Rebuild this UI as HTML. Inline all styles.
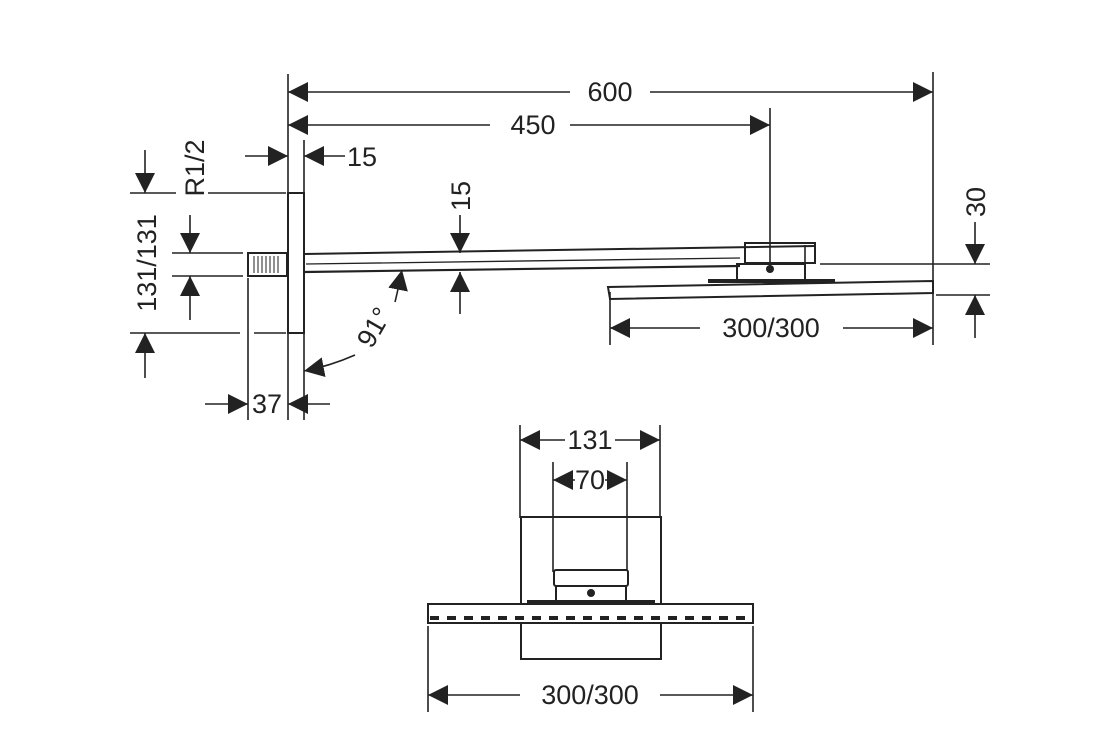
<!DOCTYPE html>
<html><head><meta charset="utf-8"><style>html,body{margin:0;padding:0;background:#fff}svg{display:block}text{font-family:"Liberation Sans",sans-serif;font-size:27px;fill:#222}</style></head><body>
<svg width="1120" height="750" viewBox="0 0 1120 750" xmlns="http://www.w3.org/2000/svg">
<defs>
<marker id="a" viewBox="0 0 20 20" refX="20" refY="10" markerWidth="20" markerHeight="20" markerUnits="userSpaceOnUse" orient="auto"><path d="M0,0 L20,10 L0,20 z" fill="#222"/></marker>
</defs>
<g stroke="#222" stroke-width="1.6" fill="none">
<line x1="288" y1="74" x2="288" y2="420"/><line x1="304" y1="140" x2="304" y2="420"/>
<line x1="933" y1="72" x2="933" y2="345"/><line x1="770" y1="108" x2="770" y2="268"/>
<line x1="248" y1="278" x2="248" y2="420"/>
<line x1="130" y1="193" x2="176" y2="193"/><line x1="208" y1="193" x2="286" y2="193"/>
<line x1="130" y1="333" x2="240" y2="333"/><line x1="254" y1="333" x2="286" y2="333"/>
<line x1="172" y1="253" x2="243" y2="253"/><line x1="172" y1="276" x2="243" y2="276"/>
<line x1="820" y1="264" x2="990" y2="264"/><line x1="936" y1="295" x2="990" y2="295"/>
<line x1="610" y1="292" x2="610" y2="345"/>
<line x1="570" y1="92" x2="288" y2="92" marker-end="url(#a)"/><line x1="650" y1="92" x2="933" y2="92" marker-end="url(#a)"/>
<line x1="490" y1="125" x2="288" y2="125" marker-end="url(#a)"/><line x1="570" y1="125" x2="770" y2="125" marker-end="url(#a)"/>
<line x1="245" y1="156" x2="288" y2="156" marker-end="url(#a)"/><line x1="345" y1="156" x2="304" y2="156" marker-end="url(#a)"/>
<line x1="145" y1="150" x2="145" y2="193" marker-end="url(#a)"/><line x1="145" y1="378" x2="145" y2="333" marker-end="url(#a)"/>
<line x1="190" y1="215" x2="190" y2="253" marker-end="url(#a)"/><line x1="190" y1="320" x2="190" y2="276" marker-end="url(#a)"/>
<line x1="460" y1="215" x2="460" y2="253" marker-end="url(#a)"/><line x1="460" y1="314" x2="460" y2="272" marker-end="url(#a)"/>
<path d="M395,302 Q398,290 402,270" marker-end="url(#a)"/>
<path d="M355,355 Q330,366 304,371" marker-end="url(#a)"/>
<line x1="205" y1="404" x2="248" y2="404" marker-end="url(#a)"/><line x1="330" y1="404" x2="288" y2="404" marker-end="url(#a)"/>
<line x1="975" y1="222" x2="975" y2="264" marker-end="url(#a)"/><line x1="975" y1="338" x2="975" y2="295" marker-end="url(#a)"/>
<line x1="700" y1="328" x2="610" y2="328" marker-end="url(#a)"/><line x1="843" y1="328" x2="933" y2="328" marker-end="url(#a)"/>
<rect x="288" y="193" width="16" height="140" stroke-width="2"/>
<rect x="248" y="253" width="39" height="23" stroke-width="2"/>
<g stroke-width="1"><line x1="254" y1="256" x2="254" y2="273"/><line x1="258" y1="256" x2="258" y2="273"/><line x1="262" y1="256" x2="262" y2="273"/><line x1="266" y1="256" x2="266" y2="273"/><line x1="270" y1="256" x2="270" y2="273"/><line x1="274" y1="256" x2="274" y2="273"/><line x1="278" y1="256" x2="278" y2="273"/></g>
<line x1="304" y1="254" x2="815" y2="246" stroke-width="2"/>
<line x1="304" y1="272" x2="740" y2="266" stroke-width="2.2"/>
<line x1="306" y1="264" x2="740" y2="258" stroke-width="1.3"/>
<rect x="745" y="243" width="70" height="20" stroke-width="2"/>
<line x1="805" y1="245" x2="805" y2="280"/>
<rect x="737" y="264" width="68" height="16" stroke-width="2"/>
<path d="M608,287 L933,281 L933,293 L610,299 Z" stroke-width="2"/>
<line x1="520" y1="425" x2="520" y2="518"/><line x1="660" y1="425" x2="660" y2="518"/>
<line x1="553" y1="462" x2="553" y2="572"/><line x1="627" y1="462" x2="627" y2="572"/>
<line x1="428" y1="626" x2="428" y2="712"/><line x1="753" y1="626" x2="753" y2="712"/>
<line x1="565" y1="440" x2="520" y2="440" marker-end="url(#a)"/><line x1="615" y1="440" x2="660" y2="440" marker-end="url(#a)"/>
<line x1="575" y1="480" x2="553" y2="480" marker-end="url(#a)"/><line x1="605" y1="480" x2="627" y2="480" marker-end="url(#a)"/>
<line x1="520" y1="695" x2="428" y2="695" marker-end="url(#a)"/><line x1="660" y1="695" x2="753" y2="695" marker-end="url(#a)"/>
<rect x="521" y="517" width="140" height="142" stroke-width="2"/>
<rect x="554" y="570" width="74" height="16" rx="2" stroke-width="2" fill="#fff"/>
<rect x="556" y="586" width="70" height="15" stroke-width="2" fill="#fff"/>
<rect x="428" y="604" width="325" height="19" stroke-width="2" fill="#fff"/>
<line x1="430" y1="618" x2="751" y2="618" stroke-width="4" stroke-dasharray="9,8"/>
</g>
<circle cx="770" cy="269" r="4" fill="#222"/>
<rect x="708" y="279" width="127" height="4" fill="#222"/>
<circle cx="591" cy="593" r="4" fill="#222"/>
<rect x="527" y="600" width="128" height="4" fill="#222"/>
<g>
<text x="610" y="101" text-anchor="middle">600</text>
<text x="533" y="134" text-anchor="middle">450</text>
<text x="347" y="166">15</text>
<text x="267" y="413" text-anchor="middle">37</text>
<text x="771" y="337" text-anchor="middle">300/300</text>
<text x="590" y="704" text-anchor="middle">300/300</text>
<text x="590" y="449" text-anchor="middle">131</text>
<text x="590" y="489" text-anchor="middle">70</text>
<text transform="translate(204,168) rotate(-90)" text-anchor="middle">R1/2</text>
<text transform="translate(156,263) rotate(-90)" text-anchor="middle">131/131</text>
<text transform="translate(470,196) rotate(-90)" text-anchor="middle">15</text>
<text transform="translate(985,202) rotate(-90)" text-anchor="middle">30</text>
<text transform="translate(382,332) rotate(-60)" text-anchor="middle">91°</text>
</g>
</svg>
</body></html>
